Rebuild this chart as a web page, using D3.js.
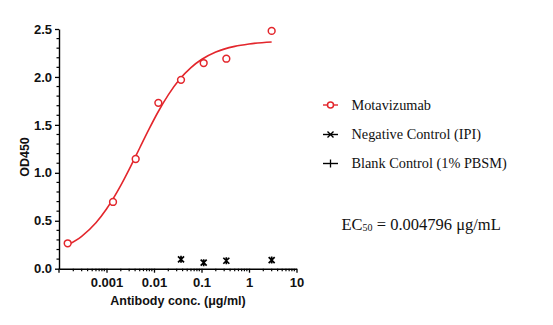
<!DOCTYPE html>
<html><head><meta charset="utf-8">
<script src="https://cdn.jsdelivr.net/npm/d3@7"></script>
<style>body{margin:0;background:#fff}svg{display:block}</style>
</head><body>
<svg id="c" width="553" height="325"></svg>
<script>
// Data
const motaConc = [3, 0.3333, 0.1111, 0.03704, 0.01235, 0.004115, 0.001372, 0.0001524];
const motaOD   = [2.48, 2.19, 2.145, 1.97, 1.73, 1.144, 0.696, 0.265];
const negConc  = [3, 0.3333, 0.1111, 0.03704];
const negOD    = [0.09, 0.083, 0.063, 0.098];
// fitted curve values
const fitConc = [0.0001524, 0.0003, 0.0006, 0.001, 0.002, 0.003, 0.005, 0.008, 0.012, 0.02, 0.035, 0.06, 0.1, 0.2, 0.5, 1, 3];
const fitOD   = [0.247, 0.338, 0.479, 0.622, 0.868, 1.035, 1.259, 1.463, 1.629, 1.813, 1.978, 2.098, 2.182, 2.26, 2.319, 2.344, 2.365];
const xTickVals = [0.001, 0.01, 0.1, 1, 10];
const xTickLabels = ["0.001", "0.01", "0.1", "1", "10"];
const yTickVals = [0, 0.5, 1.0, 1.5, 2.0, 2.5];
const yTickLabels = ["0.0", "0.5", "1.0", "1.5", "2.0", "2.5"];
const legendLabels = ["Motavizumab", "Negative Control (IPI)", "Blank Control (1% PBSM)"];
const ec50Value = "0.004796";

const RED = "#e3262c";
const svg = d3.select("#c");
const x = d3.scaleLog().domain([1e-4, 10]).range([59, 296.5]);
const y = d3.scaleLinear().domain([0, 2.5]).range([268.7, 29]);

// minor ticks
const xMinor = [];
for (let e = -4; e < 1; e++) for (let k = 2; k <= 9; k++) xMinor.push(k * Math.pow(10, e));
const yMinor = d3.range(0, 2.51, 0.1).map(v => +v.toFixed(1)).filter(v => Math.abs(v * 2 - Math.round(v * 2)) > 1e-6);

const axisG = svg.append("g").attr("stroke", "#000").attr("stroke-width", 1.3);
// x axis
const xa = svg.append("g").attr("transform", `translate(0,${y(0)})`)
  .call(d3.axisBottom(x).tickValues(xTickVals).tickFormat((d, i) => xTickLabels[i]).tickSizeInner(4).tickSizeOuter(0).tickPadding(5));
xa.append("g").selectAll("line").data(xMinor).join("line")
  .attr("x1", d => x(d)).attr("x2", d => x(d)).attr("y1", 0).attr("y2", 2.5).attr("stroke", "#000").attr("stroke-width", 1.2);
// extra major tick at 1e-4 (axis origin)
xa.append("line").attr("x1", x(1e-4)).attr("x2", x(1e-4)).attr("y1", 0).attr("y2", 4).attr("stroke", "#000").attr("stroke-width", 1.3);
// y axis
const ya = svg.append("g").attr("transform", `translate(${x(1e-4)},0)`)
  .call(d3.axisLeft(y).tickValues(yTickVals).tickFormat((d, i) => yTickLabels[i]).tickSizeInner(4).tickSizeOuter(0).tickPadding(3));
ya.append("g").selectAll("line").data(yMinor).join("line")
  .attr("x1", 0).attr("x2", -2.5).attr("y1", d => y(d)).attr("y2", d => y(d)).attr("stroke", "#000").attr("stroke-width", 1.2);

[xa, ya].forEach(g => {
  g.select(".domain").attr("stroke", "#000").attr("stroke-width", 1.4);
  g.selectAll(".tick line").attr("stroke", "#000").attr("stroke-width", 1.3);
  g.selectAll("text").attr("fill", "#111").style("font-family", "'Liberation Sans', Arial, sans-serif")
    .style("font-weight", "bold").style("font-size", "13px");
});

// axis titles
svg.append("text").attr("x", 178).attr("y", 305).attr("text-anchor", "middle")
  .style("font-family", "'Liberation Sans', Arial, sans-serif").style("font-weight", "bold").style("font-size", "12.5px")
  .attr("fill", "#111").text("Antibody conc. (μg/ml)");
svg.append("text").attr("transform", "translate(29,157) rotate(-90)").attr("text-anchor", "middle")
  .style("font-family", "'Liberation Sans', Arial, sans-serif").style("font-weight", "bold").style("font-size", "12.5px")
  .attr("fill", "#111").text("OD450");

// fitted curve
const fitData = fitConc.map((c, i) => [c, fitOD[i]]);
svg.append("path").datum(fitData)
  .attr("d", d3.line().x(d => x(d[0])).y(d => y(d[1])).curve(d3.curveMonotoneX))
  .attr("fill", "none").attr("stroke", RED).attr("stroke-width", 1.6);

// Motavizumab points
svg.append("g").selectAll("circle").data(motaConc.map((c, i) => [c, motaOD[i]])).join("circle")
  .attr("cx", d => x(d[0])).attr("cy", d => y(d[1])).attr("r", 3.4)
  .attr("fill", "#fff").attr("stroke", RED).attr("stroke-width", 1.5);

// negative control markers
function starMark(g, cx, cy, s) {
  g.append("path").attr("d", `M${cx - s},${cy - s}L${cx + s},${cy + s}M${cx - s},${cy + s}L${cx + s},${cy - s}M${cx - s},${cy - s}L${cx + s},${cy - s}M${cx - s},${cy + s}L${cx + s},${cy + s}`)
    .attr("stroke", "#000").attr("stroke-width", 1.5).attr("fill", "none");
}
const ng = svg.append("g");
negConc.forEach((c, i) => {
  const cx = x(c), cy = y(negOD[i]);
  ng.append("path").attr("d", `M${cx - 3},${cy - 3}L${cx + 3},${cy + 3}M${cx - 3},${cy + 3}L${cx + 3},${cy - 3}M${cx},${cy - 3.5}L${cx},${cy + 3.5}`)
    .attr("stroke", "#000").attr("stroke-width", 1.7).attr("fill", "none");
});

// legend
const lg = svg.append("g");
const ly = [105, 134.5, 163.5];
legendLabels.forEach((t, i) => {
  const yy = ly[i];
  lg.append("line").attr("x1", 323).attr("x2", 338).attr("y1", yy).attr("y2", yy)
    .attr("stroke", i === 0 ? RED : "#000").attr("stroke-width", 1.4);
  if (i === 0) lg.append("circle").attr("cx", 330.5).attr("cy", yy).attr("r", 3).attr("fill", "#fff").attr("stroke", RED).attr("stroke-width", 1.5);
  if (i === 1) lg.append("path").attr("d", `M${327.5},${yy - 3}L${333.5},${yy + 3}M${327.5},${yy + 3}L${333.5},${yy - 3}`).attr("stroke", "#000").attr("stroke-width", 1.4);
  if (i === 2) lg.append("line").attr("x1", 330.5).attr("x2", 330.5).attr("y1", yy - 4).attr("y2", yy + 4).attr("stroke", "#000").attr("stroke-width", 1.3);
  lg.append("text").attr("x", 351.5).attr("y", yy + 4.5)
    .style("font-family", "'Liberation Serif', 'Times New Roman', serif").style("font-size", "14.3px")
    .attr("fill", "#111").text(t);
});

// EC50 annotation
const ec = svg.append("text").attr("x", 341.5).attr("y", 230)
  .style("font-family", "'Liberation Serif', 'Times New Roman', serif").style("font-size", "16.5px").attr("fill", "#111");
ec.append("tspan").text("EC");
ec.append("tspan").style("font-size", "10px").attr("dy", 1).text("50");
ec.append("tspan").attr("dy", -1).text(" = " + ec50Value + " μg/mL");
</script>
</body></html>
